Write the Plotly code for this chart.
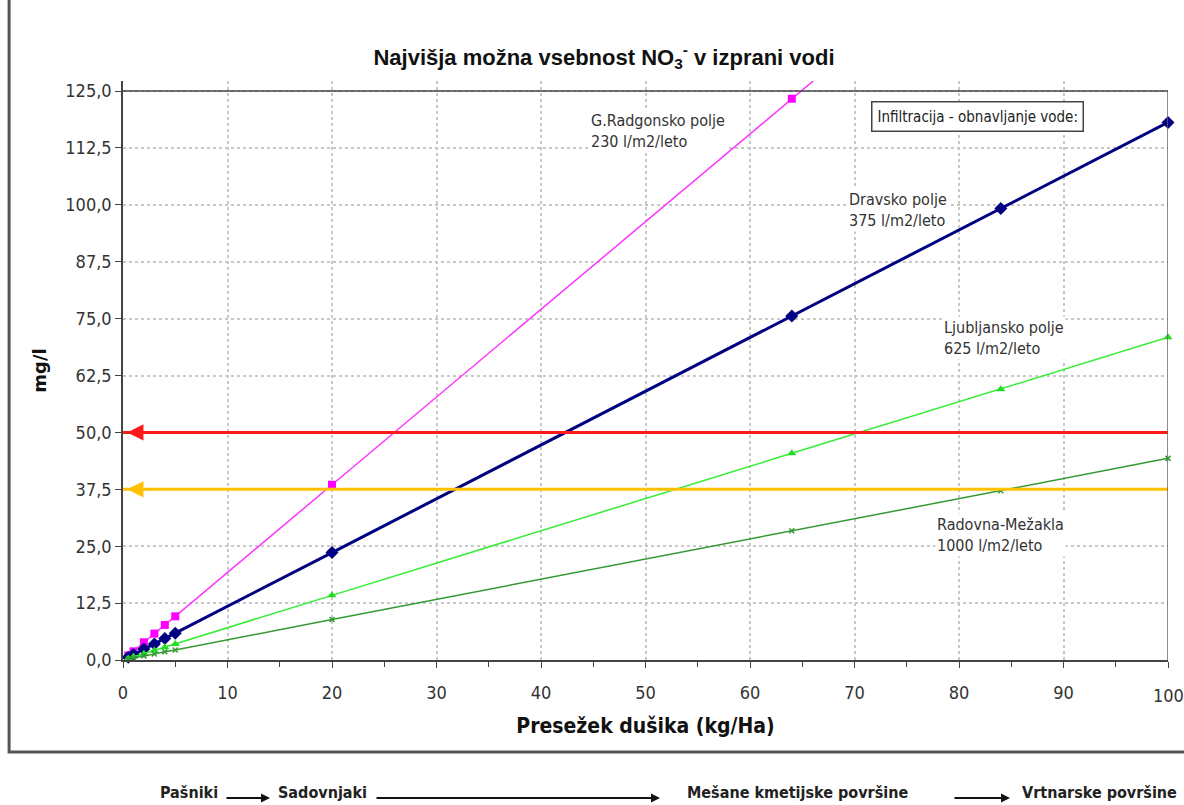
import plotly.graph_objects as go

# Data
x_n = [0.5, 1, 2, 3, 4, 5, 20, 64, 84]
radgona = [1.0, 1.9, 3.9, 5.8, 7.7, 9.6, 38.5, 123.3, 161.8]
x_all = [0.5, 1, 2, 3, 4, 5, 20, 64, 84, 100]
drava = [0.6, 1.2, 2.4, 3.5, 4.7, 5.9, 23.6, 75.6, 99.2, 118.1]
ljubljana = [0.35, 0.7, 1.4, 2.1, 2.8, 3.5, 14.2, 45.4, 59.5, 70.9]
radovna = [0.2, 0.4, 0.9, 1.3, 1.8, 2.2, 8.9, 28.4, 37.2, 44.3]
limit_red = 50.0
limit_yellow = 37.5
x_ticks = [0, 10, 20, 30, 40, 50, 60, 70, 80, 90, 100]

labels = [
    ("G.Radgonsko polje<br>230 l/m2/leto", 51.2, 116.2),
    ("Dravsko polje<br>375 l/m2/leto", 74.2, 98.9),
    ("Ljubljansko polje<br>625 l/m2/leto", 84.3, 70.7),
    ("Radovna-Mežakla<br>1000 l/m2/leto", 84.0, 27.5),
]
bottom_labels = ["Pašniki", "Sadovnjaki", "Mešane kmetijske površine", "Vrtnarske površine"]

FONT = "DejaVu Sans Condensed, DejaVu Sans, sans-serif"

fig = go.Figure()
fig.add_trace(go.Scatter(x=x_n, y=radgona, mode="lines+markers",
                         line=dict(color="#FF33FF", width=1.5),
                         marker=dict(symbol="square", size=8, color="#FF00FF"),
                         cliponaxis=True, showlegend=False))
fig.add_trace(go.Scatter(x=x_all, y=drava, mode="lines+markers",
                         line=dict(color="#000080", width=3),
                         marker=dict(symbol="diamond", size=10, color="#000080"),
                         cliponaxis=False, showlegend=False))
fig.add_trace(go.Scatter(x=x_all, y=ljubljana, mode="lines+markers",
                         line=dict(color="#33EE33", width=1.5),
                         marker=dict(symbol="triangle-up", size=8, color="#22DD22"),
                         cliponaxis=False, showlegend=False))
fig.add_trace(go.Scatter(x=x_all, y=radovna, mode="lines+markers",
                         line=dict(color="#339933", width=1.5),
                         marker=dict(symbol="x-thin", size=5, color="#339933",
                                     line=dict(color="#339933", width=1.5)),
                         cliponaxis=False, showlegend=False))

shapes = [
    dict(type="line", xref="x", yref="y", x0=0, x1=100, y0=limit_red, y1=limit_red,
         line=dict(color="#FF1A1A", width=3), layer="above"),
    dict(type="line", xref="x", yref="y", x0=0, x1=100, y0=limit_yellow, y1=limit_yellow,
         line=dict(color="#FFC000", width=3), layer="above"),
    # plot area top and right border
    dict(type="line", xref="x", yref="y", x0=0, x1=100, y0=125, y1=125,
         line=dict(color="#444444", width=1.5)),
    dict(type="line", xref="x", yref="y", x0=100, x1=100, y0=0, y1=125,
         line=dict(color="#666666", width=1.5)),
    # outer chart frame
    dict(type="rect", xref="paper", yref="paper", x0=-0.109, x1=1.05, y0=-0.159, y1=1.2,
         line=dict(color="#555555", width=3), fillcolor="rgba(0,0,0,0)"),
]


def px(v):
    return (v - 123) / 1045


def py(v):
    return (660 - v) / 579


annotations = []
for txt, lx, ly in labels:
    annotations.append(dict(x=lx, y=ly, xref="x", yref="y", text=txt, showarrow=False,
                            align="left", xanchor="center", bgcolor="white",
                            font=dict(family=FONT, size=16, color="#333333")))
# last x tick label (extends past the figure edge as in the original)
annotations.append(dict(x=x_ticks[-1], y=py(695), xref="x", yref="paper",
                        text=str(x_ticks[-1]), showarrow=False, xanchor="center",
                        yanchor="middle", font=dict(family=FONT, size=18, color="#333333")))
# legend header box
annotations.append(dict(x=px(977), y=py(116), xref="paper", yref="paper",
                        xanchor="center", yanchor="middle",
                        text="Infiltracija - obnavljanje vode:", showarrow=False,
                        bgcolor="white", bordercolor="#444444", borderwidth=1.5, borderpad=5,
                        font=dict(family=FONT, size=15, color="#222222")))
# arrows for limits
for yv, col in [(limit_red, "#FF1A1A"), (limit_yellow, "#FFC000")]:
    annotations.append(dict(x=0.4, y=yv, xref="x", yref="y", ax=25, ay=0, text="",
                            showarrow=True, arrowhead=2, arrowsize=1.3, arrowwidth=2.5,
                            arrowcolor=col))
# bottom row of land-use labels
for txt, lx in zip(bottom_labels, [158, 276, 685, 1020]):
    annotations.append(dict(x=px(lx), y=py(792), xref="paper", yref="paper",
                            text="<b>" + txt + "</b>", xanchor="left", yanchor="middle",
                            showarrow=False, font=dict(family=FONT, size=16, color="#222222")))
for head, length in [(270, 45), (660, 285), (1010, 57)]:
    annotations.append(dict(x=px(head), y=py(798), xref="paper", yref="paper",
                            ax=-length, ay=0, text="", showarrow=True, arrowhead=2,
                            arrowsize=1, arrowwidth=1.8, arrowcolor="#111111"))

fig.update_layout(
    width=1184, height=805,
    margin=dict(l=123, r=16, t=81, b=145),
    paper_bgcolor="white", plot_bgcolor="white",
    separators=",.",
    title=dict(text="<b>Najvišja možna vsebnost NO<sub>3</sub><sup>-</sup> v izprani vodi</b>",
               x=604 / 1184, xanchor="center", y=1 - 57 / 805, yanchor="middle",
               font=dict(family="Liberation Sans, Arial, sans-serif", size=22, color="#111111")),
    xaxis=dict(range=[0, 100], tickvals=x_ticks,
               ticktext=[str(v) for v in x_ticks[:-1]] + [""],
               ticks="outside", ticklen=6, ticklabelstandoff=10,
               tickcolor="#444444", showline=True, linecolor="#444444", linewidth=1.5,
               showgrid=True, gridcolor="#C8C8C8", griddash="dot", gridwidth=1.5,
               zeroline=False,
               minor=dict(dtick=5, ticks="outside", ticklen=5, tickcolor="#444444", showgrid=False),
               tickfont=dict(family=FONT, size=18, color="#333333"),
               title=dict(text="<b>Presežek dušika (kg/Ha)</b>", standoff=16,
                          font=dict(family=FONT, size=21, color="#111111"))),
    yaxis=dict(range=[0, 127.2], tickvals=[i * 12.5 for i in range(11)],
               tickformat=".1f", ticks="outside", ticklen=6, tickcolor="#444444",
               showline=True, linecolor="#444444", linewidth=1.5,
               showgrid=True, gridcolor="#C8C8C8", griddash="dot", gridwidth=1.5,
               zeroline=False,
               tickfont=dict(family=FONT, size=18, color="#333333"),
               title=dict(text="<b>mg/l</b>", standoff=14,
                          font=dict(family="DejaVu Sans", size=18, color="#111111"))),
    shapes=shapes,
    annotations=annotations,
)

fig.write_html(
    "out.html",
    config={"displayModeBar": False},
    post_script="document.body.style.margin='0';document.body.style.overflow='hidden';",
)
